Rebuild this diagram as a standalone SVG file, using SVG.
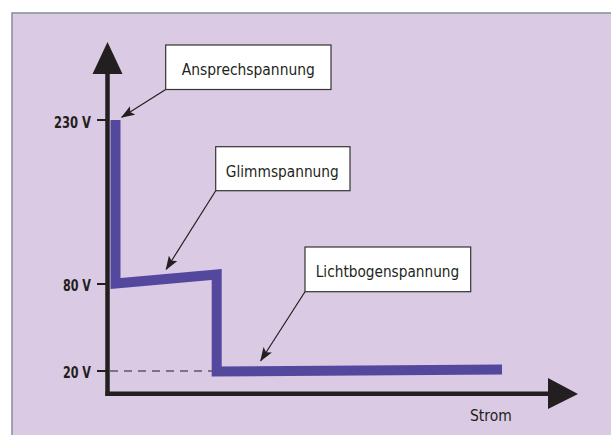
<svg xmlns="http://www.w3.org/2000/svg" width="611" height="435" viewBox="0 0 611 435">
  <style>
    .axis { stroke: #231f20; stroke-width: 4.5; fill: none; }
    .tick { stroke: #231f20; stroke-width: 2; }
    .curve { stroke: #54489e; stroke-width: 10; fill: none; stroke-linejoin: miter; stroke-linecap: butt; stroke-miterlimit: 20; }
    .box { fill: #ffffff; stroke: #333333; stroke-width: 1.2; }
    .lbl { font-family: "DejaVu Sans Condensed", "DejaVu Sans", sans-serif; font-size: 16.5px; fill: #231f20; }
    .ylbl { font-family: "DejaVu Sans Condensed", "DejaVu Sans", sans-serif; font-size: 16px; font-weight: bold; fill: #231f20; }
    .leader { stroke: #231f20; stroke-width: 1.2; fill: none; }
  </style>
  <defs>
    <marker id="ah" viewBox="0 0 14 10" refX="13" refY="5" markerWidth="14" markerHeight="10" markerUnits="userSpaceOnUse" orient="auto">
      <path d="M0,0 L14,5 L0,10 L3,5 z" fill="#231f20"/>
    </marker>
  </defs>
  <rect x="0" y="0" width="611" height="435" fill="#ffffff"/>
  <rect x="12" y="13" width="610" height="430" fill="#dbcae3" stroke="#8a949c" stroke-width="1.6"/>

  <g id="axes">
    <line class="axis" x1="107.5" y1="70" x2="107.5" y2="396"/>
    <line class="axis" x1="105.5" y1="393.8" x2="552" y2="393.8"/>
    <polygon points="107.5,42 122.5,74 92.5,74" fill="#231f20"/>
    <polygon points="578,394 548,378 548,409" fill="#231f20"/>
    <line class="tick" x1="97" y1="120" x2="107" y2="120"/>
    <line class="tick" x1="97" y1="284" x2="107" y2="284"/>
    <line class="tick" x1="97" y1="371" x2="107" y2="371"/>
    <line x1="110" y1="371" x2="212" y2="371" stroke="#231f20" stroke-width="1.2" stroke-dasharray="8,6"/>
    <text class="ylbl" x="91" y="127.7" text-anchor="end" textLength="37" lengthAdjust="spacingAndGlyphs">230 V</text>
    <text class="ylbl" x="91" y="291" text-anchor="end" textLength="28" lengthAdjust="spacingAndGlyphs">80 V</text>
    <text class="ylbl" x="91" y="377.7" text-anchor="end" textLength="28" lengthAdjust="spacingAndGlyphs">20 V</text>
    <text class="lbl" x="470" y="421" textLength="41.7" lengthAdjust="spacingAndGlyphs">Strom</text>
  </g>

  <g id="curve">
    <path class="curve" d="M115.5,120 L115.5,283.5 L216.7,274.4 L216.7,371.5 L502,369.5"/>
  </g>

  <g id="connectors">
    <line class="leader" x1="165.7" y1="89.5" x2="121.7" y2="117.3" marker-end="url(#ah)"/>
    <line class="leader" x1="215.7" y1="190.7" x2="166.2" y2="269.3" marker-end="url(#ah)"/>
    <line class="leader" x1="305" y1="291.7" x2="260.7" y2="360.7" marker-end="url(#ah)"/>
  </g>

  <g id="node-ansprechspannung">
    <rect class="box" x="165.7" y="45" width="165.3" height="44.5"/>
    <text class="lbl" x="248.3" y="75" text-anchor="middle" textLength="133" lengthAdjust="spacingAndGlyphs">Ansprechspannung</text>
  </g>
  <g id="node-glimmspannung">
    <rect class="box" x="215.7" y="146.7" width="134.3" height="44"/>
    <text class="lbl" x="282.3" y="176.7" text-anchor="middle" textLength="113" lengthAdjust="spacingAndGlyphs">Glimmspannung</text>
  </g>
  <g id="node-lichtbogenspannung">
    <rect class="box" x="305" y="247" width="165.7" height="44.7"/>
    <text class="lbl" x="387.5" y="276.7" text-anchor="middle" textLength="143.5" lengthAdjust="spacingAndGlyphs">Lichtbogenspannung</text>
  </g>
</svg>
